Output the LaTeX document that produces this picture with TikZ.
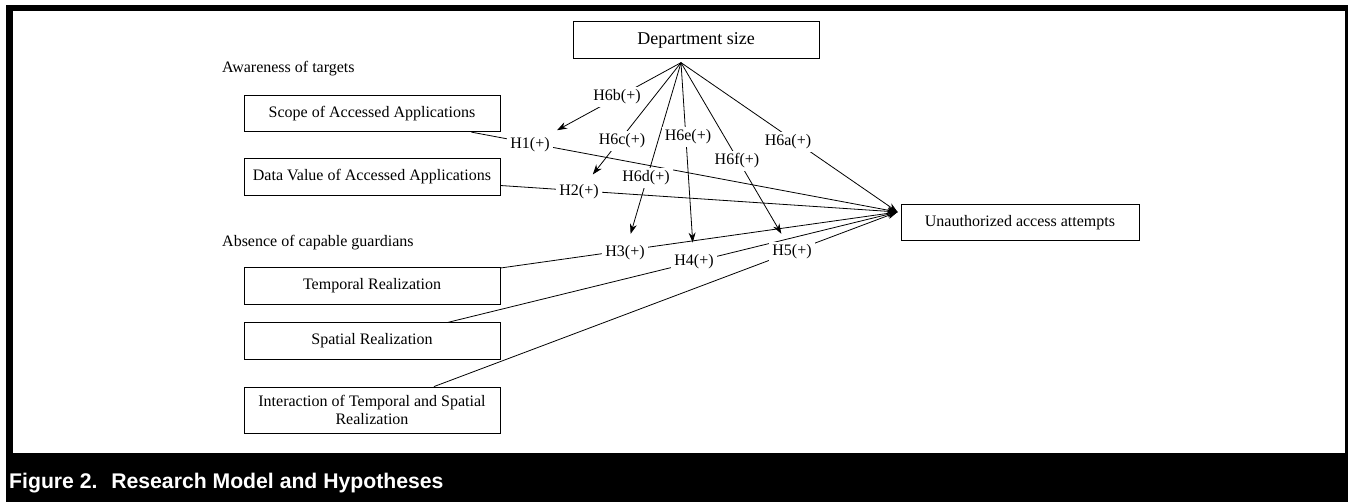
\documentclass[tikz,border=0pt]{standalone}
\usepackage{fontspec}
\setmainfont{Liberation Serif}
\newfontfamily\capfont{Liberation Sans}
\usetikzlibrary{arrows.meta}

\begin{document}
\begin{tikzpicture}[x=1pt,y=-1pt,
  box/.style={draw,fill=white,line width=0.8pt,minimum width=256pt,minimum height=36.5pt,inner sep=2pt,align=center,font=\fontsize{16}{18.5}\selectfont},
  hyp/.style={fill=white,inner sep=3pt,font=\fontsize{16}{18.5}\selectfont},
  grp/.style={anchor=base west,inner sep=0pt,font=\fontsize{16}{18.5}\selectfont},
  link/.style={line width=0.8pt,-{Stealth[length=10pt,width=7pt]}},
  mod/.style={link,shorten >=9pt}]
\useasboundingbox (0,0) rectangle (1349,502);
\fill[black] (6,5) rectangle (1348,502);
\fill[white] (12.5,11.5) rectangle (1345,453);

\node[grp] at (222,73) (aware) {Awareness of targets};
\node[grp] at (222,247) (absence) {Absence of capable guardians};

\node[box,minimum width=246pt,font=\fontsize{18}{21}\selectfont] at (696,40) (dept) {Department size};
\node[box] at (372,113.5) (scope) {Scope of Accessed Applications};
\node[box] at (372,177) (data) {Data Value of Accessed Applications};
\node[box] at (372,286) (temp) {Temporal Realization};
\node[box] at (372,341) (spat) {Spatial Realization};
\node[box,minimum height=46pt] at (372,410) (inter) {Interaction of Temporal and Spatial\\Realization};
\node[box,minimum width=238pt] at (1020,222.5) (ua) {Unauthorized access attempts};

\coordinate (T) at ([xshift=-3pt,yshift=10.5pt]ua.west);
\coordinate (fan) at ([xshift=-15pt,yshift=-4pt]dept.south);

\draw[link] (scope) -- (T);
\draw[link] (data) -- (T);
\draw[link] (temp) -- (T);
\draw[link] (spat) -- (T);
\draw[link] (inter) -- (T);
\draw[link] (fan) -- (T);

\node[hyp] at (530,145) (h1) {H1(+)};
\node[hyp] at (579,192) (h2) {H2(+)};
\node[hyp] at (625,253) (h3) {H3(+)};
\node[hyp] at (694,262) (h4) {H4(+)};
\node[hyp] at (792,252) (h5) {H5(+)};
\node[hyp] at (788,142) (h6a) {H6a(+)};

\draw[mod] (fan) -- (h1);
\draw[mod] (fan) -- (h2);
\draw[mod] (fan) -- (h3);
\draw[mod] (fan) -- (h4);
\draw[mod] (fan) -- (h5);

\node[hyp] at (617,97) (h6b) {H6b(+)};
\node[hyp] at (622,141) (h6c) {H6c(+)};
\node[hyp] at (646,178) (h6d) {H6d(+)};
\node[hyp] at (688,137) (h6e) {H6e(+)};
\node[hyp] at (737,161) (h6f) {H6f(+)};

\node[anchor=base west,inner sep=0pt,text=white,font=\capfont\bfseries\fontsize{21.2}{25}\selectfont] at (9,488) (cap) {Figure 2.~ Research Model and Hypotheses};
\end{tikzpicture}
\end{document}
